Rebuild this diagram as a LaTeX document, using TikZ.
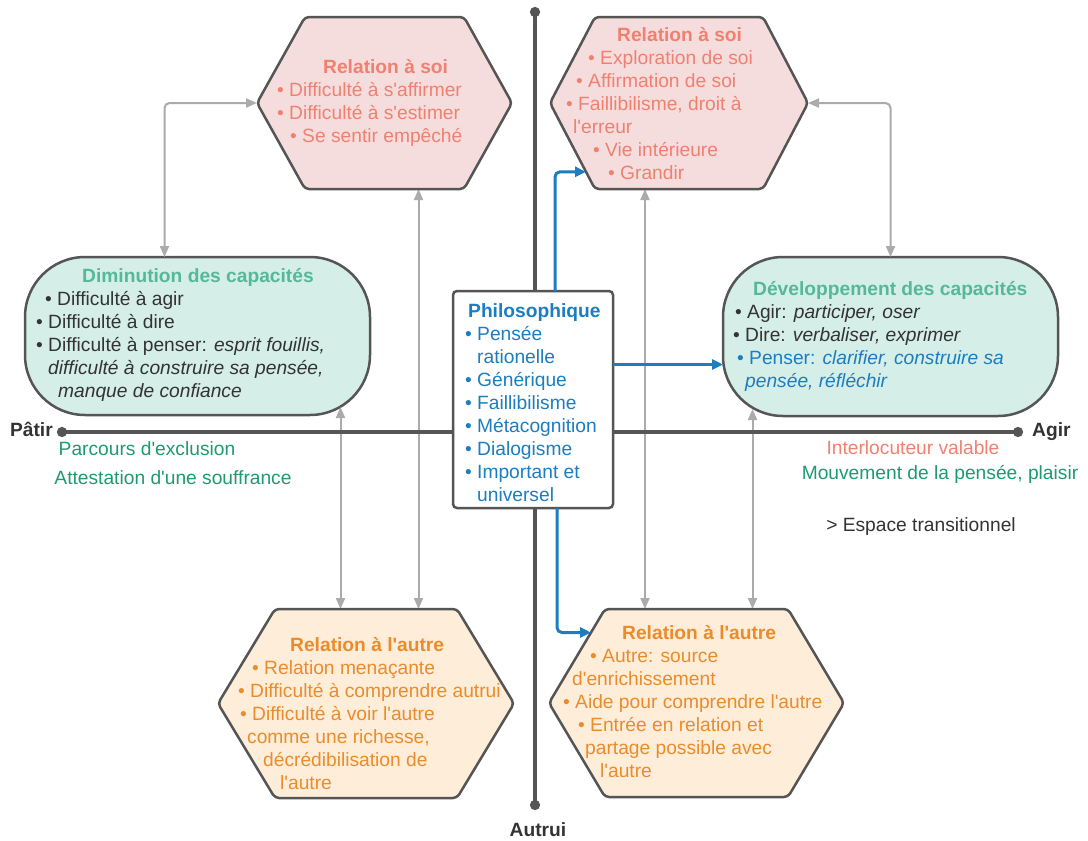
\documentclass[tikz,border=0pt]{standalone}
\usepackage{fontspec}
\setmainfont{Liberation Sans}
\newfontfamily\labelfont{Liberation Sans}
\usetikzlibrary{calc,arrows.meta}

\definecolor{soiText}{HTML}{F08070}
\definecolor{soiFill}{HTML}{F6DDDD}
\definecolor{autreText}{HTML}{EB8C2C}
\definecolor{autreFill}{HTML}{FDEDD9}
\definecolor{capTitle}{HTML}{55B996}
\definecolor{capFill}{HTML}{D6EEE8}
\definecolor{philoBlue}{HTML}{1C7DBF}
\definecolor{noteGreen}{HTML}{1F9A6E}
\definecolor{darkText}{HTML}{333333}
\definecolor{edgeGray}{HTML}{555555}
\definecolor{linkGray}{HTML}{ABABAB}

\tikzset{
  shapebox/.style={rectangle, inner sep=0pt, outer sep=0pt},
  hexline/.style={draw=edgeGray, line width=2.5pt, rounded corners=4pt},
  capbox/.style={shapebox, draw=edgeGray, fill=capFill, line width=2.5pt, rounded corners=60pt},
  txt/.style={anchor=base west, align=left, inner sep=0pt},
  note/.style={anchor=base, inner sep=0pt},
  link/.style={draw=linkGray, line width=2pt, rounded corners=5pt,
    {Triangle[length=11pt,width=9pt]}-{Triangle[length=11pt,width=9pt]}},
  philolink/.style={draw=philoBlue, line width=3pt, rounded corners=5pt,
    -{Triangle[length=11pt,width=10pt]}},
  axis/.style={draw=edgeGray, line width=3.5pt, {Circle[length=10pt]}-{Circle[length=10pt]}},
}

% hexagon drawn round an empty box node: name, inset, fill
\newcommand\hexa[3]{%
  \draw[hexline, fill=#3] (#1.west)
    -- ([xshift=#2]#1.north west) coordinate (#1-nw)
    -- ([xshift=-#2]#1.north east) coordinate (#1-ne)
    -- (#1.east)
    -- ([xshift=-#2]#1.south east) coordinate (#1-se)
    -- ([xshift=#2]#1.south west) coordinate (#1-sw)
    -- cycle;}
\newcommand\ind[1]{\hspace*{#1pt}}

\begin{document}
\begin{tikzpicture}[x=1pt, y=-1pt, text=darkText,
    every node/.style={font=\labelfont\fontsize{19.2}{23}\selectfont}]
    \useasboundingbox (0,0) rectangle (1088,841);

    % boxes
    \node[shapebox, minimum width=255pt, minimum height=172pt] (soiG) at (384.5,103) {};
    \node[shapebox, minimum width=258pt, minimum height=172pt] (soiD) at (679,103) {};
    \node[shapebox, minimum width=296pt, minimum height=189pt] (autreG) at (366,703.5) {};
    \node[shapebox, minimum width=295pt, minimum height=188pt] (autreD) at (696.5,703) {};
    \node[capbox, minimum width=345pt, minimum height=158pt] (capG) at (197.5,336) {};
    \node[capbox, minimum width=335pt, minimum height=159pt] (capD) at (890.5,336.5) {};

    % grey links
    \draw[link] (soiG.west) -| ([xshift=-33pt]capG.north);
    \draw[link] (soiD.east) -| (capD.north);
    \draw[link] ([xshift=34pt]soiG.south) -- ([xshift=34pt]soiG.south |- autreG.north);
    \draw[link] ([xshift=143pt,yshift=8pt]capG.south) -- ([xshift=143pt]capG.south |- autreG.north);
    \draw[link] ([xshift=-34pt]soiD.south) -- ([xshift=-34pt]soiD.south |- autreD.north);
    \draw[link] ([xshift=-138pt,yshift=7pt]capD.south) -- ([xshift=-138pt]capD.south |- autreD.north);

    % axes
    \coordinate (ax_top) at (535,7);
    \coordinate (ax_bot) at (535,810);
    \coordinate (ax_left) at (57,432);
    \coordinate (ax_right) at (1023,432);
    \draw[axis] (ax_left) -- (ax_right);
    \draw[axis] (ax_top) -- (ax_bot);
    \node[note, anchor=base east] (patir) at ($(ax_left)+(-4,4)$) {\textbf{Pâtir}};
    \node[note, anchor=base west] (agir) at ($(ax_right)+(9,4)$) {\textbf{Agir}};
    \node[note] (autrui) at ($(ax_bot)+(3,26)$) {\textbf{Autrui}};

    \hexa{soiG}{48pt}{soiFill}
    \hexa{soiD}{45pt}{soiFill}
    \hexa{autreG}{57pt}{autreFill}
    \hexa{autreD}{56pt}{autreFill}

    \node[shapebox, draw=edgeGray, fill=white, line width=2.5pt, rounded corners=4pt,
      minimum width=160pt, minimum height=217pt] (philo) at (533,399.5) {};

    % texts (placed at the baseline of their last line)
    \node[txt, text=soiText] (soiG_txt) at (277,142)
    {\ind{46}\textbf{Relation à soi}\\
     • Difficulté à s'affirmer\\
     • Difficulté à s'estimer\\
     \ind{13}• Se sentir empêché};

    \node[txt, text=soiText] (soiD_txt) at (566,179)
    {\ind{51}\textbf{Relation à soi}\\
     \ind{22}• Exploration de soi\\
     \ind{10}• Affirmation de soi\\
     • Faillibilisme, droit à\\
     \ind{7}l'erreur\\
     \ind{27}• Vie intérieure\\
     \ind{42}• Grandir};

    \node[txt] (capG_txt) at (36,397)
    {\ind{46}\textbf{\textcolor{capTitle}{Diminution des capacités}}\\
     \ind{9}• Difficulté à agir\\
     • Difficulté à dire\\
     • Difficulté à penser: \textit{esprit fouillis,}\\
     \ind{12}\textit{difficulté à construire sa pensée,}\\
     \ind{22}\textit{manque de confiance}};

    \node[txt] (capD_txt) at (733,387)
    {\ind{20}\textbf{\textcolor{capTitle}{Développement des capacités}}\\
     \ind{2}• Agir: \textit{participer, oser}\\
     • Dire: \textit{verbaliser, exprimer}\\
     \ind{4}\textcolor{philoBlue}{• Penser: \textit{clarifier, construire sa}}\\
     \ind{12}\textcolor{philoBlue}{\textit{pensée, réfléchir}}};

    \node[txt, text=philoBlue] (philo_txt) at (465,501)
    {\ind{3}\textbf{Philosophique}\\
     • Pensée\\
     \ind{12}rationelle\\
     • Générique\\
     • Faillibilisme\\
     • Métacognition\\
     • Dialogisme\\
     • Important et\\
     \ind{12}universel};

    \node[txt, text=autreText] (autreG_txt) at (238,789)
    {\ind{52}\textbf{Relation à l'autre}\\
     \ind{14}• Relation menaçante\\
     • Difficulté à comprendre autrui\\
     \ind{2}• Difficulté à voir l'autre\\
     \ind{9}comme une richesse,\\
     \ind{25}décrédibilisation de\\
     \ind{42}l'autre};

    \node[txt, text=autreText] (autreD_txt) at (563,777)
    {\ind{59}\textbf{Relation à l'autre}\\
     \ind{27}• Autre: source\\
     \ind{9}d'enrichissement\\
     • Aide pour comprendre l'autre\\
     \ind{15}• Entrée en relation et\\
     \ind{22}partage possible avec\\
     \ind{37}l'autre};

    % notes along the axis
    \node[note, text=noteGreen] (exclusion) at (147,455) {Parcours d'exclusion};
    \node[note, text=noteGreen] (souffrance) at (173,484) {Attestation d'une souffrance};
    \node[note, text=soiText] (valable) at (913,454) {Interlocuteur valable};
    \node[note, text=noteGreen] (mouvement) at (940,479) {Mouvement de la pensée, plaisir};
    \node[note] (transition) at (921,531) {> Espace transitionnel};

    % blue links
    \draw[philolink] ([xshift=22pt]philo.north) |- ($(soiD.west)!0.8!(soiD-sw)$);
    \draw[philolink] ([yshift=35pt]philo.east) -- ([yshift=35pt]philo.east -| capD.west);
    \draw[philolink] ([xshift=24pt]philo.south) |- ($(autreD-nw)!0.25!(autreD.west)$);

\end{tikzpicture}
\end{document}
